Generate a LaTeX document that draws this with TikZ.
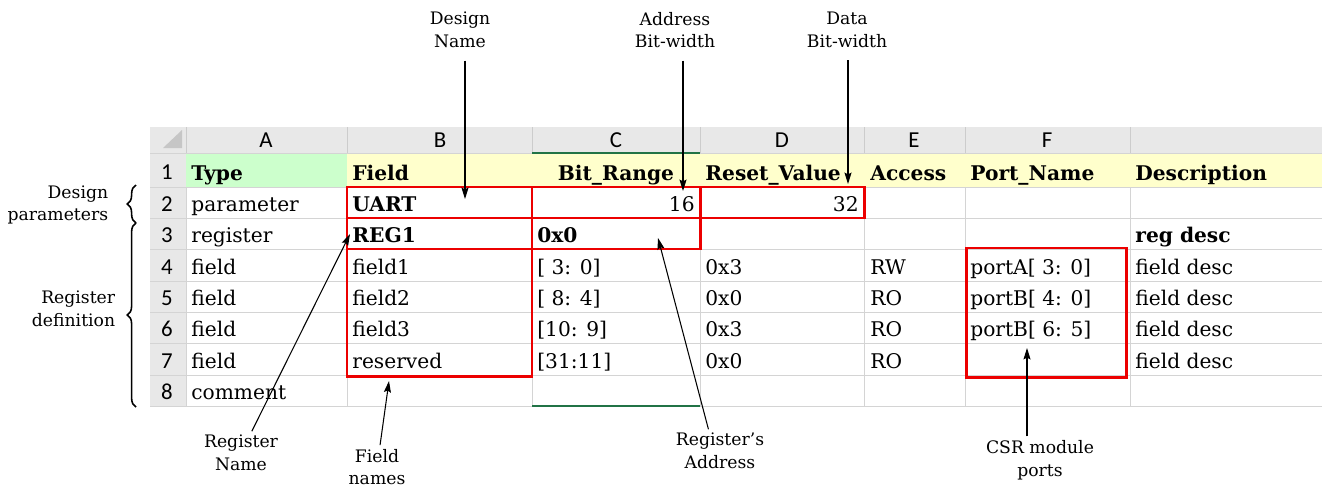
\documentclass[tikz,border=0pt]{standalone}
\usepackage{fontspec}
\setmainfont{DejaVu Serif}
\newfontfamily\hdrfont{Carlito}
\usetikzlibrary{arrows.meta,decorations.pathreplacing}
\definecolor{gridgray}{RGB}{212,212,212}
\definecolor{hdrgray}{RGB}{232,232,232}
\definecolor{typegreen}{RGB}{204,255,204}
\definecolor{hdryellow}{RGB}{255,255,204}
\definecolor{boxred}{RGB}{236,0,0}
\definecolor{selgreen}{RGB}{33,115,70}

\begin{document}
\begin{tikzpicture}[x=0.02cm,y=-0.02cm,>={Stealth[length=6.5pt,width=4pt,inset=1pt]},
		cell/.style={anchor=base west,inner sep=0pt,font=\fontsize{11.5}{13}\selectfont},
		num cell/.style={cell,anchor=base east},
		bold cell/.style={cell,font=\fontsize{11.5}{13}\selectfont\bfseries},
		col letter/.style={anchor=base,inner sep=0pt,font=\hdrfont\fontsize{13}{15}\selectfont},
		note/.style={align=center,font=\fontsize{9.8}{13}\selectfont,inner sep=2pt},
		redbox/.style={draw=boxred,line width=1.7pt},
		pointer/.style={->,line width=0.6pt},
		curly/.style={decorate,decoration={brace,amplitude=5pt},line width=0.9pt}]
		
		\fill[white] (0,0) rectangle (1322,501);
		\useasboundingbox (0,0) rectangle (1322,501);
		
		% sheet background
		\fill[hdrgray] (150,127) rectangle (1322,153);
		\fill[hdrgray] (150,153) rectangle (186,406);
		\fill[typegreen] (186,153) rectangle (347,187);
		\fill[hdryellow] (347,153) rectangle (1322,187);
		\fill[gray!45] (163,148) -- (182,148) -- (182,130) -- cycle;
		\foreach \x in {186,347,532,700,864,965,1130} {
			\draw[gray!40] (\x,127) -- (\x,153);
			\draw[gridgray] (\x,187) -- (\x,406);
		}
		\foreach \y in {153,187,218,249,281,312,343,375,406}
			\draw[gridgray] (150,\y) -- (1322,\y);
		\draw[selgreen,line width=1.2pt] (532,153) -- (700,153);
		\draw[selgreen,line width=1.2pt] (532,406) -- (700,406);
		
		% column letters and row numbers
		\node[col letter] (cA) at (266,147) {A};
		\node[col letter] (cB) at (440,147) {B};
		\node[col letter] (cC) at (616,147) {C};
		\node[col letter] (cD) at (782,147) {D};
		\node[col letter] (cE) at (914,147) {E};
		\node[col letter] (cF) at (1047,147) {F};
		\node[col letter] (r1) at (167,179) {1};
		\node[col letter] (r2) at (167,211) {2};
		\node[col letter] (r3) at (167,242) {3};
		\node[col letter] (r4) at (167,274) {4};
		\node[col letter] (r5) at (167,305) {5};
		\node[col letter] (r6) at (167,336) {6};
		\node[col letter] (r7) at (167,368) {7};
		\node[col letter] (r8) at (167,399) {8};
		
		% row 1
		\node[bold cell] (a1) at (191,180) {Type};
		\node[bold cell] (b1) at (352,180) {Field};
		\node[bold cell,anchor=base] (c1) at (616,180) {Bit\_Range};
		\node[bold cell] (d1) at (705,180) {Reset\_Value};
		\node[bold cell] (e1) at (870,180) {Access};
		\node[bold cell] (f1) at (970,180) {Port\_Name};
		\node[bold cell] (g1) at (1135,180) {Description};
		% rows 2 and 3
		\node[cell] (a2) at (191,211) {parameter};
		\node[bold cell] (b2) at (352,211) {UART};
		\node[num cell] (c2) at (695,211) {16};
		\node[num cell] (d2) at (859,211) {32};
		\node[cell] (a3) at (191,242) {register};
		\node[bold cell] (b3) at (352,242) {REG1};
		\node[bold cell] (c3) at (537,242) {0x0};
		\node[bold cell] (g3) at (1135,242) {reg desc};
		% field rows
		\node[cell] (a4) at (191,274) {field};
		\node[cell] (b4) at (352,274) {field1};
		\node[cell] (c4) at (537,274) {[ 3: 0]};
		\node[cell] (d4) at (705,274) {0x3};
		\node[cell] (e4) at (870,274) {RW};
		\node[cell] (f4) at (970,274) {portA[ 3: 0]};
		\node[cell] (g4) at (1135,274) {field desc};
		\node[cell] (a5) at (191,305) {field};
		\node[cell] (b5) at (352,305) {field2};
		\node[cell] (c5) at (537,305) {[ 8: 4]};
		\node[cell] (d5) at (705,305) {0x0};
		\node[cell] (e5) at (870,305) {RO};
		\node[cell] (f5) at (970,305) {portB[ 4: 0]};
		\node[cell] (g5) at (1135,305) {field desc};
		\node[cell] (a6) at (191,336) {field};
		\node[cell] (b6) at (352,336) {field3};
		\node[cell] (c6) at (537,336) {[10: 9]};
		\node[cell] (d6) at (705,336) {0x3};
		\node[cell] (e6) at (870,336) {RO};
		\node[cell] (f6) at (970,336) {portB[ 6: 5]};
		\node[cell] (g6) at (1135,336) {field desc};
		\node[cell] (a7) at (191,368) {field};
		\node[cell] (b7) at (352,368) {reserved};
		\node[cell] (c7) at (537,368) {[31:11]};
		\node[cell] (d7) at (705,368) {0x0};
		\node[cell] (e7) at (870,368) {RO};
		\node[cell] (g7) at (1135,368) {field desc};
		\node[cell] (a8) at (191,399) {comment};
		
		% highlighted cells
		\draw[redbox] (347,187) rectangle (532,218);
		\draw[redbox] (532,187) rectangle (700,218);
		\draw[redbox] (700,187) rectangle (864,218);
		\draw[redbox] (347,218) rectangle (532,249);
		\draw[redbox] (532,218) rectangle (700,249);
		\draw[redbox] (347,249) rectangle (532,376);
		\draw[redbox] (966,248) rectangle (1126,377);
		
		% annotations
		\node[note] (dname) at (460,30) {Design\\Name};
		\node[note] (awidth) at (675,30) {Address\\Bit-width};
		\node[note] (dwidth) at (847,30) {Data\\Bit-width};
		\node[note,align=right,anchor=east] (dparam) at (112,205) {Design\\parameters};
		\node[note,align=right,anchor=east] (regdef) at (119,309) {Register\\definition};
		\node[note] (rname) at (241,453) {Register\\Name};
		\node[note] (fnames) at (377,467) {Field\\names};
		\node[note] (raddr) at (720,451) {Register’s\\Address};
		\node[note] (csr) at (1040,460) {CSR module\\ports};
		
		\coordinate (dnpt) at (465,199);
		\coordinate (awpt) at (683,191);
		\coordinate (dwpt) at (848,184);
		\coordinate (rnpt) at (350,234);
		\coordinate (fnpt) at (389,381);
		\coordinate (rapt) at (658,238);
		\coordinate (cspt) at (1027,348);
		
		\draw[pointer,shorten <=5pt] (dname.south -| dnpt) -- (dnpt);
		\draw[pointer,shorten <=5pt] (awidth.south -| awpt) -- (awpt);
		\draw[pointer,shorten <=5pt] (dwidth.south -| dwpt) -- (dwpt);
		\draw[pointer] (rname) -- (rnpt);
		\draw[pointer] (fnames) -- (fnpt);
		\draw[pointer] (raddr.118) -- (rapt);
		\draw[pointer] (csr.north -| cspt) -- (cspt);
		
		\coordinate (bt) at (136,185);
		\coordinate (bm) at (136,223);
		\coordinate (bb) at (136,407);
		\draw[curly] (bm) -- (bt);
		\draw[curly] (bb) -- (bm);
\end{tikzpicture}
\end{document}
